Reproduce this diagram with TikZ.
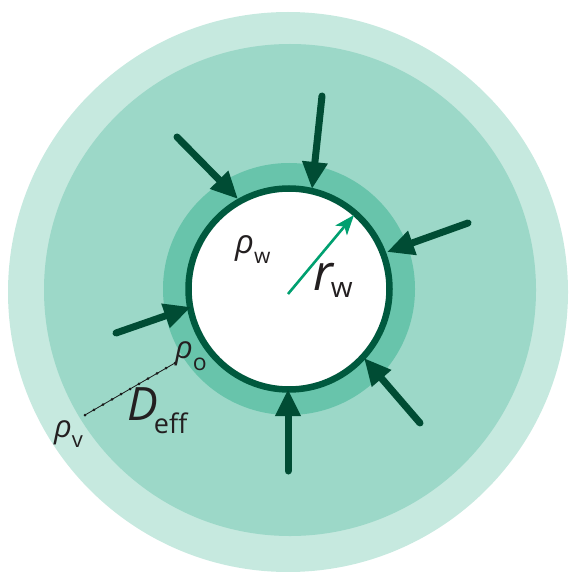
\documentclass[tikz,border=0pt]{standalone}
\usepackage{fontspec}
\setmainfont{Open Sans}
\usetikzlibrary{arrows.meta,calc}
\definecolor{ringOuter}{HTML}{C6E9DF}
\definecolor{ringMid}{HTML}{9CD8C8}
\definecolor{ringIn}{HTML}{68C4AB}
\definecolor{wallDark}{HTML}{00593E}
\definecolor{arrowDark}{HTML}{004C34}
\definecolor{radGreen}{HTML}{00A070}
\definecolor{txt}{HTML}{231F20}
\tikzset{
  inflow/.style={draw=arrowDark, line width=7pt, line cap=round,
    -{Triangle[length=27pt,width=24pt]}},
  radius arrow/.style={draw=radGreen, line width=2.6pt,
    -{Stealth[length=20pt,width=15pt,inset=5pt]}},
  lbl/.style={anchor=base west, inner sep=0pt, text=txt},
  dotline/.style={draw=black!90, line width=0.8pt},
}
\newcommand{\bigsym}[2]{{\fontsize{#1}{#1}\selectfont\itshape #2}}
\newcommand{\subsym}[3]{\raisebox{-#2pt}{\fontsize{#1}{#1}\selectfont #3}}
\begin{document}
\begin{tikzpicture}[x=1pt,y=-1pt]
\useasboundingbox (0,0) rectangle (571,572);
% rings
\fill[ringOuter] (288,292) circle[radius=280pt];
\fill[ringMid] (290,290) circle[radius=246pt];
\fill[ringIn] (289,289) circle[radius=126pt];
\fill[white] (289,289) circle[radius=100pt];
\draw[wallDark, line width=6.5pt] (289,289) coordinate (c) circle[radius=100.5pt];
% inflow arrows
\coordinate (s1) at (177,137); \coordinate (t1) at (238,199);
\coordinate (s2) at (322,96);  \coordinate (t2) at (312,189);
\coordinate (s3) at (468,223); \coordinate (t3) at (387,252);
\coordinate (s4) at (116,333); \coordinate (t4) at (191,307);
\coordinate (s5) at (420,423); \coordinate (t5) at (364,358);
\coordinate (s6) at (288,471); \coordinate (t6) at (288,389);
\foreach \i in {1,...,6} { \draw[inflow] (s\i) -- (t\i); }
% radius arrow
\coordinate (rc) at (288,294);
\coordinate (rt) at (354,215);
\draw[radius arrow] (rc) -- (rt);
% dotted D_eff line
\coordinate (dv) at (85,415);
\coordinate (do) at (175,363);
\draw[dotline] (dv) -- (do);
\foreach \t in {0,0.1,...,1.01} { \fill[black!90] ($(dv)!\t!(do)$) circle[radius=1.5pt]; }
% labels
\node[lbl] (lw) at (235,253) {\bigsym{33}{ρ}\kern0pt\subsym{21}{10}{w}};
\node[lbl] (lr) at (313,290) {\bigsym{50}{r}\kern-2pt\subsym{28}{7}{w}};
\node[lbl] (lo) at (175,358) {\bigsym{31}{ρ}\kern0pt\subsym{23}{12}{o}};
\node[lbl] (lv) at (54,437) {\bigsym{31}{ρ}\kern0pt\subsym{22}{10}{v}};
\node[lbl] (ld) at (127,420) {\bigsym{46}{D}\kern-4pt\subsym{27}{13}{eff}};
\end{tikzpicture}
\end{document}
